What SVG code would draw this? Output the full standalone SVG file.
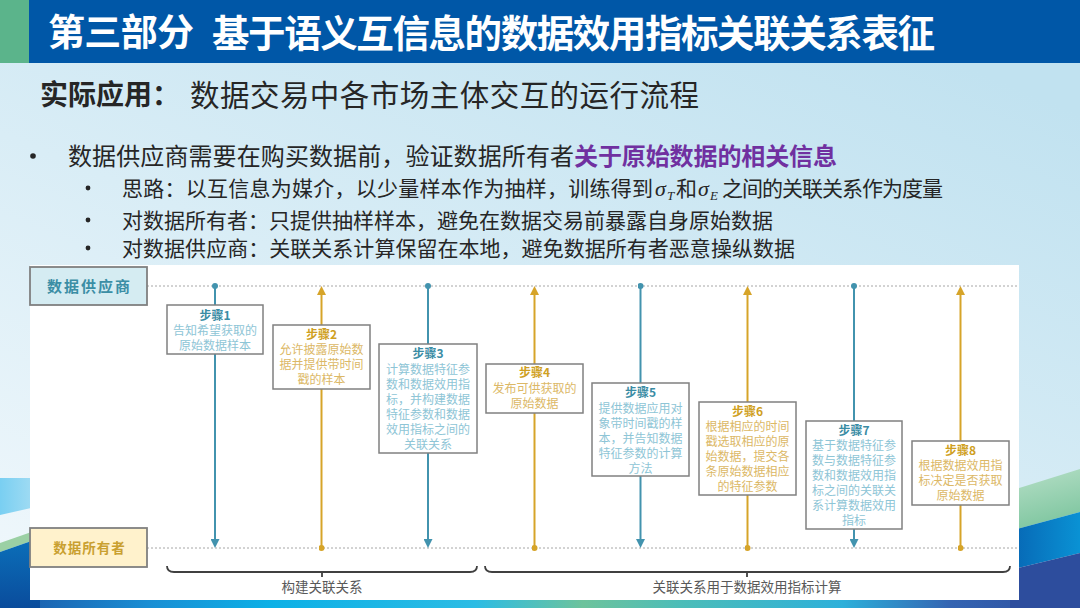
<svg xmlns="http://www.w3.org/2000/svg" width="1080" height="608" viewBox="0 0 1080 608">
<defs>
  <linearGradient id="bg" x1="0.75" y1="0" x2="0" y2="1">
    <stop offset="0" stop-color="#C1E2F0"/>
    <stop offset="1" stop-color="#F1F8FC"/>
  </linearGradient>
  <linearGradient id="strip" x1="0" y1="0" x2="1" y2="0">
    <stop offset="0" stop-color="#1C56A6"/>
    <stop offset="0.14" stop-color="#1A8FD4"/>
    <stop offset="0.25" stop-color="#0CB0E6"/>
    <stop offset="0.44" stop-color="#2CBCE4"/>
    <stop offset="0.54" stop-color="#6DC39C"/>
    <stop offset="0.63" stop-color="#4CBDB8"/>
    <stop offset="0.78" stop-color="#2DB0DA"/>
    <stop offset="0.88" stop-color="#3464B2"/>
    <stop offset="1" stop-color="#2D4C9C"/>
  </linearGradient>
  <linearGradient id="cyanL" x1="0" y1="0" x2="1" y2="0">
    <stop offset="0" stop-color="#79CFF2"/>
    <stop offset="1" stop-color="#A9DEF3"/>
  </linearGradient>
  <linearGradient id="blueL" x1="0" y1="0" x2="0" y2="1">
    <stop offset="0" stop-color="#0B70BA"/>
    <stop offset="1" stop-color="#0A4C9C"/>
  </linearGradient>
  <linearGradient id="greenR" x1="0" y1="0" x2="0.3" y2="1">
    <stop offset="0" stop-color="#B8E0C8"/>
    <stop offset="1" stop-color="#7FC6A0"/>
  </linearGradient>
  <linearGradient id="blueR" x1="0" y1="0" x2="1" y2="0">
    <stop offset="0" stop-color="#0766B4"/>
    <stop offset="1" stop-color="#0A92D4"/>
  </linearGradient>
  <marker id="arrT" viewBox="0 0 10 10" refX="2.2" refY="5" markerWidth="9" markerHeight="9" markerUnits="userSpaceOnUse" orient="auto">
    <path d="M0,0 L10,5 L0,10 z" fill="#4293AE"/>
  </marker>
  <marker id="arrG" viewBox="0 0 10 10" refX="2.2" refY="5" markerWidth="9" markerHeight="9" markerUnits="userSpaceOnUse" orient="auto">
    <path d="M0,0 L10,5 L0,10 z" fill="#D6A429"/>
  </marker>
  <marker id="dotT" viewBox="0 0 10 10" refX="5" refY="5" markerWidth="6" markerHeight="6" markerUnits="userSpaceOnUse">
    <circle cx="5" cy="5" r="5" fill="#4293AE"/>
  </marker>
  <marker id="dotG" viewBox="0 0 10 10" refX="5" refY="5" markerWidth="6" markerHeight="6" markerUnits="userSpaceOnUse">
    <circle cx="5" cy="5" r="5" fill="#D6A429"/>
  </marker>
</defs>
<style>
  .cjk{font-family:"Noto Sans CJK SC","Noto Sans",sans-serif}
  .txt{fill:#262626}
  .box{fill:#ffffff;stroke:#808080;stroke-width:1.5}
  .tT{font-size:12px;font-weight:bold;fill:#3A8CA4;text-anchor:middle}
  .bT{font-size:12px;fill:#8EC5D6;text-anchor:middle}
  .tG{font-size:12px;font-weight:bold;fill:#CF9F22;text-anchor:middle}
  .bG{font-size:12px;fill:#DCB866;text-anchor:middle}
  .lnT{stroke:#4293AE;stroke-width:2;fill:none}
  .lnG{stroke:#D6A429;stroke-width:2;fill:none}
  .dash{stroke:#A6A6A6;stroke-width:1;stroke-dasharray:2 2;fill:none}
  .brace{fill:none;stroke:#404040;stroke-width:1.8}
  .btxt{font-size:13.5px;fill:#595959;text-anchor:middle}
  .math{font-family:"Liberation Serif","DejaVu Serif",serif;font-style:italic;fill:#262626}
</style>

<!-- background -->
<rect x="0" y="0" width="1080" height="608" fill="url(#bg)"/>
<rect x="0" y="596" width="1080" height="12" fill="url(#strip)"/>
<polygon points="0,478 40,478 40,506 0,515" fill="url(#cyanL)"/>
<polygon points="0,543 40,529 40,538 0,552" fill="#9BD0A4"/>
<polygon points="0,552 40,538 40,608 0,608" fill="url(#blueL)"/>
<polygon points="1010,491 1080,469 1080,512 1010,531" fill="url(#greenR)"/>
<polygon points="1010,531 1080,512 1080,553 1010,570" fill="url(#blueR)"/>
<polygon points="1010,570 1080,553 1080,608 1010,608" fill="#2D4D9D"/>

<!-- header -->
<rect x="0" y="0" width="1080" height="63" fill="#0057A7"/>
<rect x="0" y="0" width="29" height="63" fill="#5BB48B"/>
<text class="cjk" x="48" y="46" font-size="37" font-weight="bold" fill="#ffffff" textLength="146">第三部分</text>
<text class="cjk" x="212" y="46.5" font-size="37.5" font-weight="bold" fill="#ffffff" textLength="723">基于语义互信息的数据效用指标关联关系表征</text>

<!-- subtitle -->
<text class="cjk txt" x="40" y="105" font-size="28" font-weight="bold" fill="#111111">实际应用：</text>
<text class="cjk txt" x="190" y="106" font-size="29.5" textLength="509">数据交易中各市场主体交互的运行流程</text>

<!-- bullets -->
<circle cx="33" cy="156" r="2.8" fill="#262626"/>
<text class="cjk txt" x="68" y="165" font-size="24" textLength="506">数据供应商需要在购买数据前，验证数据所有者</text>
<text class="cjk" x="574" y="165" font-size="24" font-weight="bold" fill="#7030A0" textLength="263">关于原始数据的相关信息</text>

<circle cx="88" cy="188" r="2.4" fill="#262626"/>
<text class="cjk txt" x="122" y="195.5" font-size="21" textLength="531">思路：以互信息为媒介，以少量样本作为抽样，训练得到</text>
<text class="math" x="655" y="195.5" font-size="22">σ</text>
<text class="math" x="667" y="200" font-size="13">T</text>
<text class="cjk txt" x="676" y="195.5" font-size="21">和</text>
<text class="math" x="698" y="195.5" font-size="22">σ</text>
<text class="math" x="710" y="200" font-size="13">E</text>
<text class="cjk txt" x="722" y="195.5" font-size="21" textLength="221">之间的关联关系作为度量</text>

<circle cx="88" cy="220" r="2.4" fill="#262626"/>
<text class="cjk txt" x="122" y="228" font-size="21" textLength="651">对数据所有者：只提供抽样样本，避免在数据交易前暴露自身原始数据</text>

<circle cx="88" cy="248" r="2.4" fill="#262626"/>
<text class="cjk txt" x="122" y="256" font-size="21" textLength="673">对数据供应商：关联关系计算保留在本地，避免数据所有者恶意操纵数据</text>

<!-- panel -->
<rect x="30" y="265" width="989" height="335" fill="#ffffff"/>

<!-- lifelines -->
<g id="lifelines">
  <line class="dash" x1="147" y1="286" x2="1019" y2="286"/>
  <line class="dash" x1="147" y1="548" x2="1019" y2="548"/>
</g>

<!-- connectors -->
<g id="connectors">
  <path class="lnT" d="M215,286 V541" marker-start="url(#dotT)" marker-end="url(#arrT)"/>
  <path class="lnG" d="M321.5,548 V293" marker-start="url(#dotG)" marker-end="url(#arrG)"/>
  <path class="lnT" d="M428,286 V541" marker-start="url(#dotT)" marker-end="url(#arrT)"/>
  <path class="lnG" d="M534.5,548 V293" marker-start="url(#dotG)" marker-end="url(#arrG)"/>
  <path class="lnT" d="M640.5,286 V541" marker-start="url(#dotT)" marker-end="url(#arrT)"/>
  <path class="lnG" d="M747.5,548 V293" marker-start="url(#dotG)" marker-end="url(#arrG)"/>
  <path class="lnT" d="M854,286 V541" marker-start="url(#dotT)" marker-end="url(#arrT)"/>
  <path class="lnG" d="M960.5,548 V293" marker-start="url(#dotG)" marker-end="url(#arrG)"/>
</g>

<!-- actor nodes -->
<g id="supplier">
  <rect x="30" y="267" width="117" height="38" fill="#D5ECF2" stroke="#808080" stroke-width="1.8"/>
  <text class="cjk" x="89.5" y="292" font-size="15" font-weight="bold" fill="#3B8EA5" text-anchor="middle" letter-spacing="2">数据供应商</text>
</g>
<g id="owner">
  <rect x="30" y="528" width="117" height="39" fill="#FFF2CC" stroke="#808080" stroke-width="1.8"/>
  <text class="cjk" x="89.5" y="552.5" font-size="13.5" font-weight="bold" fill="#C9A030" text-anchor="middle" letter-spacing="1">数据所有者</text>
</g>

<!-- step nodes -->
<g id="step1" class="cjk">
  <rect class="box" x="167" y="305" width="96" height="49"/>
  <text class="tT" x="215" y="319.5">步骤1</text>
  <text class="bT" x="215" y="334.5">告知希望获取的</text>
  <text class="bT" x="215" y="349.5">原始数据样本</text>
</g>
<g id="step2" class="cjk">
  <rect class="box" x="273" y="325" width="97" height="64"/>
  <text class="tG" x="321.5" y="338.5">步骤2</text>
  <text class="bG" x="321.5" y="353.5">允许披露原始数</text>
  <text class="bG" x="321.5" y="368.5">据并提供带时间</text>
  <text class="bG" x="321.5" y="383.5">戳的样本</text>
</g>
<g id="step3" class="cjk">
  <rect class="box" x="379" y="344" width="98" height="109"/>
  <text class="tT" x="428" y="357.5">步骤3</text>
  <text class="bT" x="428" y="373.5">计算数据特征参</text>
  <text class="bT" x="428" y="388.5">数和数据效用指</text>
  <text class="bT" x="428" y="403.5">标，并构建数据</text>
  <text class="bT" x="428" y="418.5">特征参数和数据</text>
  <text class="bT" x="428" y="433.5">效用指标之间的</text>
  <text class="bT" x="428" y="448.5">关联关系</text>
</g>
<g id="step4" class="cjk">
  <rect class="box" x="486" y="364" width="97" height="49"/>
  <text class="tG" x="534.5" y="376.5">步骤4</text>
  <text class="bG" x="534.5" y="392.5">发布可供获取的</text>
  <text class="bG" x="534.5" y="407.5">原始数据</text>
</g>
<g id="step5" class="cjk">
  <rect class="box" x="592" y="383" width="97" height="93"/>
  <text class="tT" x="640.5" y="396.5">步骤5</text>
  <text class="bT" x="640.5" y="412.5">提供数据应用对</text>
  <text class="bT" x="640.5" y="427.5">象带时间戳的样</text>
  <text class="bT" x="640.5" y="442.5">本，并告知数据</text>
  <text class="bT" x="640.5" y="457.5">特征参数的计算</text>
  <text class="bT" x="640.5" y="472.5">方法</text>
</g>
<g id="step6" class="cjk">
  <rect class="box" x="699" y="402" width="97" height="93"/>
  <text class="tG" x="747.5" y="415.5">步骤6</text>
  <text class="bG" x="747.5" y="430.5">根据相应的时间</text>
  <text class="bG" x="747.5" y="445.5">戳选取相应的原</text>
  <text class="bG" x="747.5" y="460.5">始数据，提交各</text>
  <text class="bG" x="747.5" y="475.5">条原始数据相应</text>
  <text class="bG" x="747.5" y="490.5">的特征参数</text>
</g>
<g id="step7" class="cjk">
  <rect class="box" x="806" y="421" width="96" height="108"/>
  <text class="tT" x="854" y="434.5">步骤7</text>
  <text class="bT" x="854" y="449.5">基于数据特征参</text>
  <text class="bT" x="854" y="464.5">数与数据特征参</text>
  <text class="bT" x="854" y="479.5">数和数据效用指</text>
  <text class="bT" x="854" y="494.5">标之间的关联关</text>
  <text class="bT" x="854" y="509.5">系计算数据效用</text>
  <text class="bT" x="854" y="524.5">指标</text>
</g>
<g id="step8" class="cjk">
  <rect class="box" x="912" y="441" width="97" height="64"/>
  <text class="tG" x="960.5" y="454.5">步骤8</text>
  <text class="bG" x="960.5" y="469.5">根据数据效用指</text>
  <text class="bG" x="960.5" y="484.5">标决定是否获取</text>
  <text class="bG" x="960.5" y="499.5">原始数据</text>
</g>

<!-- phase braces -->
<g id="phase1" class="cjk">
  <path class="brace" d="M167,566 Q167,572 174,572 H470 Q477,572 477,566 M322,572 V577"/>
  <text class="btxt" x="322" y="591.5">构建关联关系</text>
</g>
<g id="phase2" class="cjk">
  <path class="brace" d="M485,566 Q485,572 492,572 H1003 Q1010,572 1010,566 M747,572 V577"/>
  <text class="btxt" x="747" y="591.5">关联关系用于数据效用指标计算</text>
</g>
</svg>
